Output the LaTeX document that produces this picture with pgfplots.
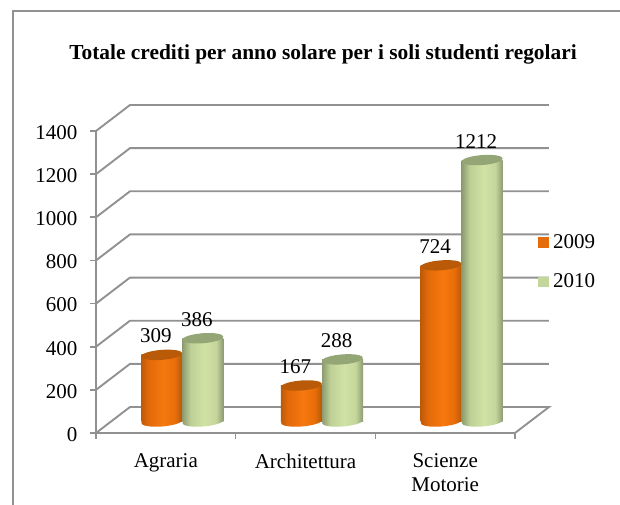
\documentclass[border=0pt]{standalone}
\usepackage{pgfplots}
\usepackage{fontspec}
\setmainfont{Liberation Serif}
\pgfplotsset{compat=1.18}
\definecolor{gridgray}{RGB}{145,145,145}
\definecolor{swOrange}{RGB}{228,108,10}
\definecolor{swGreen}{RGB}{195,214,155}
\definecolor{topOrange}{RGB}{184,90,8}
\definecolor{topGreen}{RGB}{148,165,118}

% cylinder shadings, the bar covers 25bp to 75bp
\pgfdeclarehorizontalshading{cylorange}{100bp}{
  rgb(0bp)=(.745,.353,.031);
  rgb(25bp)=(.745,.353,.031);
  rgb(33bp)=(.882,.412,.039);
  rgb(52bp)=(.965,.471,.055);
  rgb(66bp)=(.91,.431,.039);
  rgb(75bp)=(.706,.345,.031);
  rgb(100bp)=(.706,.345,.031)}
\pgfdeclarehorizontalshading{cylgreen}{100bp}{
  rgb(0bp)=(.557,.608,.439);
  rgb(25bp)=(.557,.608,.439);
  rgb(35bp)=(.745,.816,.588);
  rgb(52bp)=(.816,.886,.643);
  rgb(66bp)=(.769,.839,.608);
  rgb(75bp)=(.557,.608,.451);
  rgb(100bp)=(.557,.608,.451)}

\pgfdeclareplotmark{cyltop}{%
  \pgfpathellipse{\pgfpointorigin}{\pgfpoint{20.5pt}{1.5pt}}{\pgfpoint{0pt}{5pt}}%
  \pgfusepathqfill}
\pgfdeclareplotmark{cylbotorange}{%
  \pgfpathellipse{\pgfpointorigin}{\pgfpoint{20.5pt}{1.5pt}}{\pgfpoint{0pt}{5pt}}%
  \pgfshadepath{cylorange}{0}\pgfusepath{discard}}
\pgfdeclareplotmark{cylbotgreen}{%
  \pgfpathellipse{\pgfpointorigin}{\pgfpoint{20.5pt}{1.5pt}}{\pgfpoint{0pt}{5pt}}%
  \pgfshadepath{cylgreen}{0}\pgfusepath{discard}}

\newcommand{\txt}{\fontsize{21}{24.5}\selectfont}

\pgfplotsset{
  myaxis/.style={
    scale only axis, width=419pt, height=302pt,
    xmin=0, xmax=3, ymin=0, ymax=1400,
    clip=false,
    /pgf/number format/assume math mode=true,
    /pgf/number format/1000 sep={},
  },
  barplot/.style={ybar, bar width=41pt, bar shift=0pt, draw=none, shade, forget plot},
  topplot/.style={only marks, mark=cyltop, forget plot,
    nodes near coords, point meta=y,
    every node near coord/.style={anchor=center, yshift=19pt, xshift=-6pt, font=\txt, text=black}},
}

\begin{document}
\begin{tikzpicture}[x=1pt,y=1pt]
\path[use as bounding box] (0,0) rectangle (620,505);
\draw[gridgray, line width=2pt] (13,0) -- (13,493.5) -- (620,493.5);

% walls and floor
\begin{axis}[myaxis,
    at={(96pt,72pt)}, anchor=south west,
    axis lines=left, axis line style={gridgray, line width=1.9pt, -},
    tick style={gridgray, line width=1.6pt},
    tick align=outside, major tick length=6pt,
    ytick={0,200,...,1400},
    xtick={0,1,2,3}, xticklabels={},
    extra x ticks={0.5,1.5,2.5},
    extra x tick labels={Agraria,Architettura,Scienze\\Motorie},
    extra x tick style={major tick length=0pt},
    tick label style={font=\txt, text=black},
    xticklabel style={align=center, yshift=-17pt},
    yticklabel style={xshift=-9pt, yshift=-1.5pt},
    title={\fontsize{21.4}{25}\selectfont\bfseries Totale crediti per anno solare per i soli studenti regolari},
    title style={at={(axis description cs:0.5418,1.232)}, anchor=center},
    legend style={at={(axis description cs:1.0545,0.665)}, anchor=north west,
      draw=none, fill=none, font=\txt, row sep=20pt, inner sep=0pt},
    legend cell align=left,
    legend image code/.code={\fill[#1] (0pt,-5.5pt) rectangle (11pt,5pt); \path (13pt,0pt);},
  ]
  \addplot[gridgray, line width=1.9pt, forget plot, unbounded coords=jump] table[row sep=\\] {
    x y\\
    0 0\\ 0.2434 120.5\\ 3.2434 120.5\\ 3 0\\ nan nan\\
    0 200\\ 0.2434 320.5\\ 3.2434 320.5\\ nan nan\\
    0 400\\ 0.2434 520.5\\ 3.2434 520.5\\ nan nan\\
    0 600\\ 0.2434 720.5\\ 3.2434 720.5\\ nan nan\\
    0 800\\ 0.2434 920.5\\ 3.2434 920.5\\ nan nan\\
    0 1000\\ 0.2434 1120.5\\ 3.2434 1120.5\\ nan nan\\
    0 1200\\ 0.2434 1320.5\\ 3.2434 1320.5\\ nan nan\\
    0 1400\\ 0.2434 1520.5\\ 3.2434 1520.5\\
  };
  \addlegendimage{fill=swOrange, draw=none}
  \addlegendimage{fill=swGreen, draw=none}
  \legend{2009,2010}
\end{axis}

% cylinders, one plot per bar so the shading fits each
\begin{axis}[myaxis, at={(112.5pt,83.5pt)}, anchor=south west, hide axis]
  % Agraria
  \addplot[only marks, mark=cylbotorange, forget plot] coordinates {(0.353,0)};
  \addplot[barplot, shading=cylorange] coordinates {(0.353,309)};
  \addplot[topplot, topOrange, mark options={fill=topOrange, draw=none}] coordinates {(0.353,309)};
  \addplot[only marks, mark=cylbotgreen, forget plot] coordinates {(0.647,0)};
  \addplot[barplot, shading=cylgreen] coordinates {(0.647,386)};
  \addplot[topplot, topGreen, mark options={fill=topGreen, draw=none}] coordinates {(0.647,386)};
  % Architettura
  \addplot[only marks, mark=cylbotorange, forget plot] coordinates {(1.353,0)};
  \addplot[barplot, shading=cylorange] coordinates {(1.353,167)};
  \addplot[topplot, topOrange, mark options={fill=topOrange, draw=none}] coordinates {(1.353,167)};
  \addplot[only marks, mark=cylbotgreen, forget plot] coordinates {(1.647,0)};
  \addplot[barplot, shading=cylgreen] coordinates {(1.647,288)};
  \addplot[topplot, topGreen, mark options={fill=topGreen, draw=none}] coordinates {(1.647,288)};
  % Scienze Motorie
  \addplot[only marks, mark=cylbotorange, forget plot] coordinates {(2.353,0)};
  \addplot[barplot, shading=cylorange] coordinates {(2.353,724)};
  \addplot[topplot, topOrange, mark options={fill=topOrange, draw=none}] coordinates {(2.353,724)};
  \addplot[only marks, mark=cylbotgreen, forget plot] coordinates {(2.647,0)};
  \addplot[barplot, shading=cylgreen] coordinates {(2.647,1212)};
  \addplot[topplot, topGreen, mark options={fill=topGreen, draw=none}] coordinates {(2.647,1212)};
\end{axis}
\end{tikzpicture}
\end{document}
